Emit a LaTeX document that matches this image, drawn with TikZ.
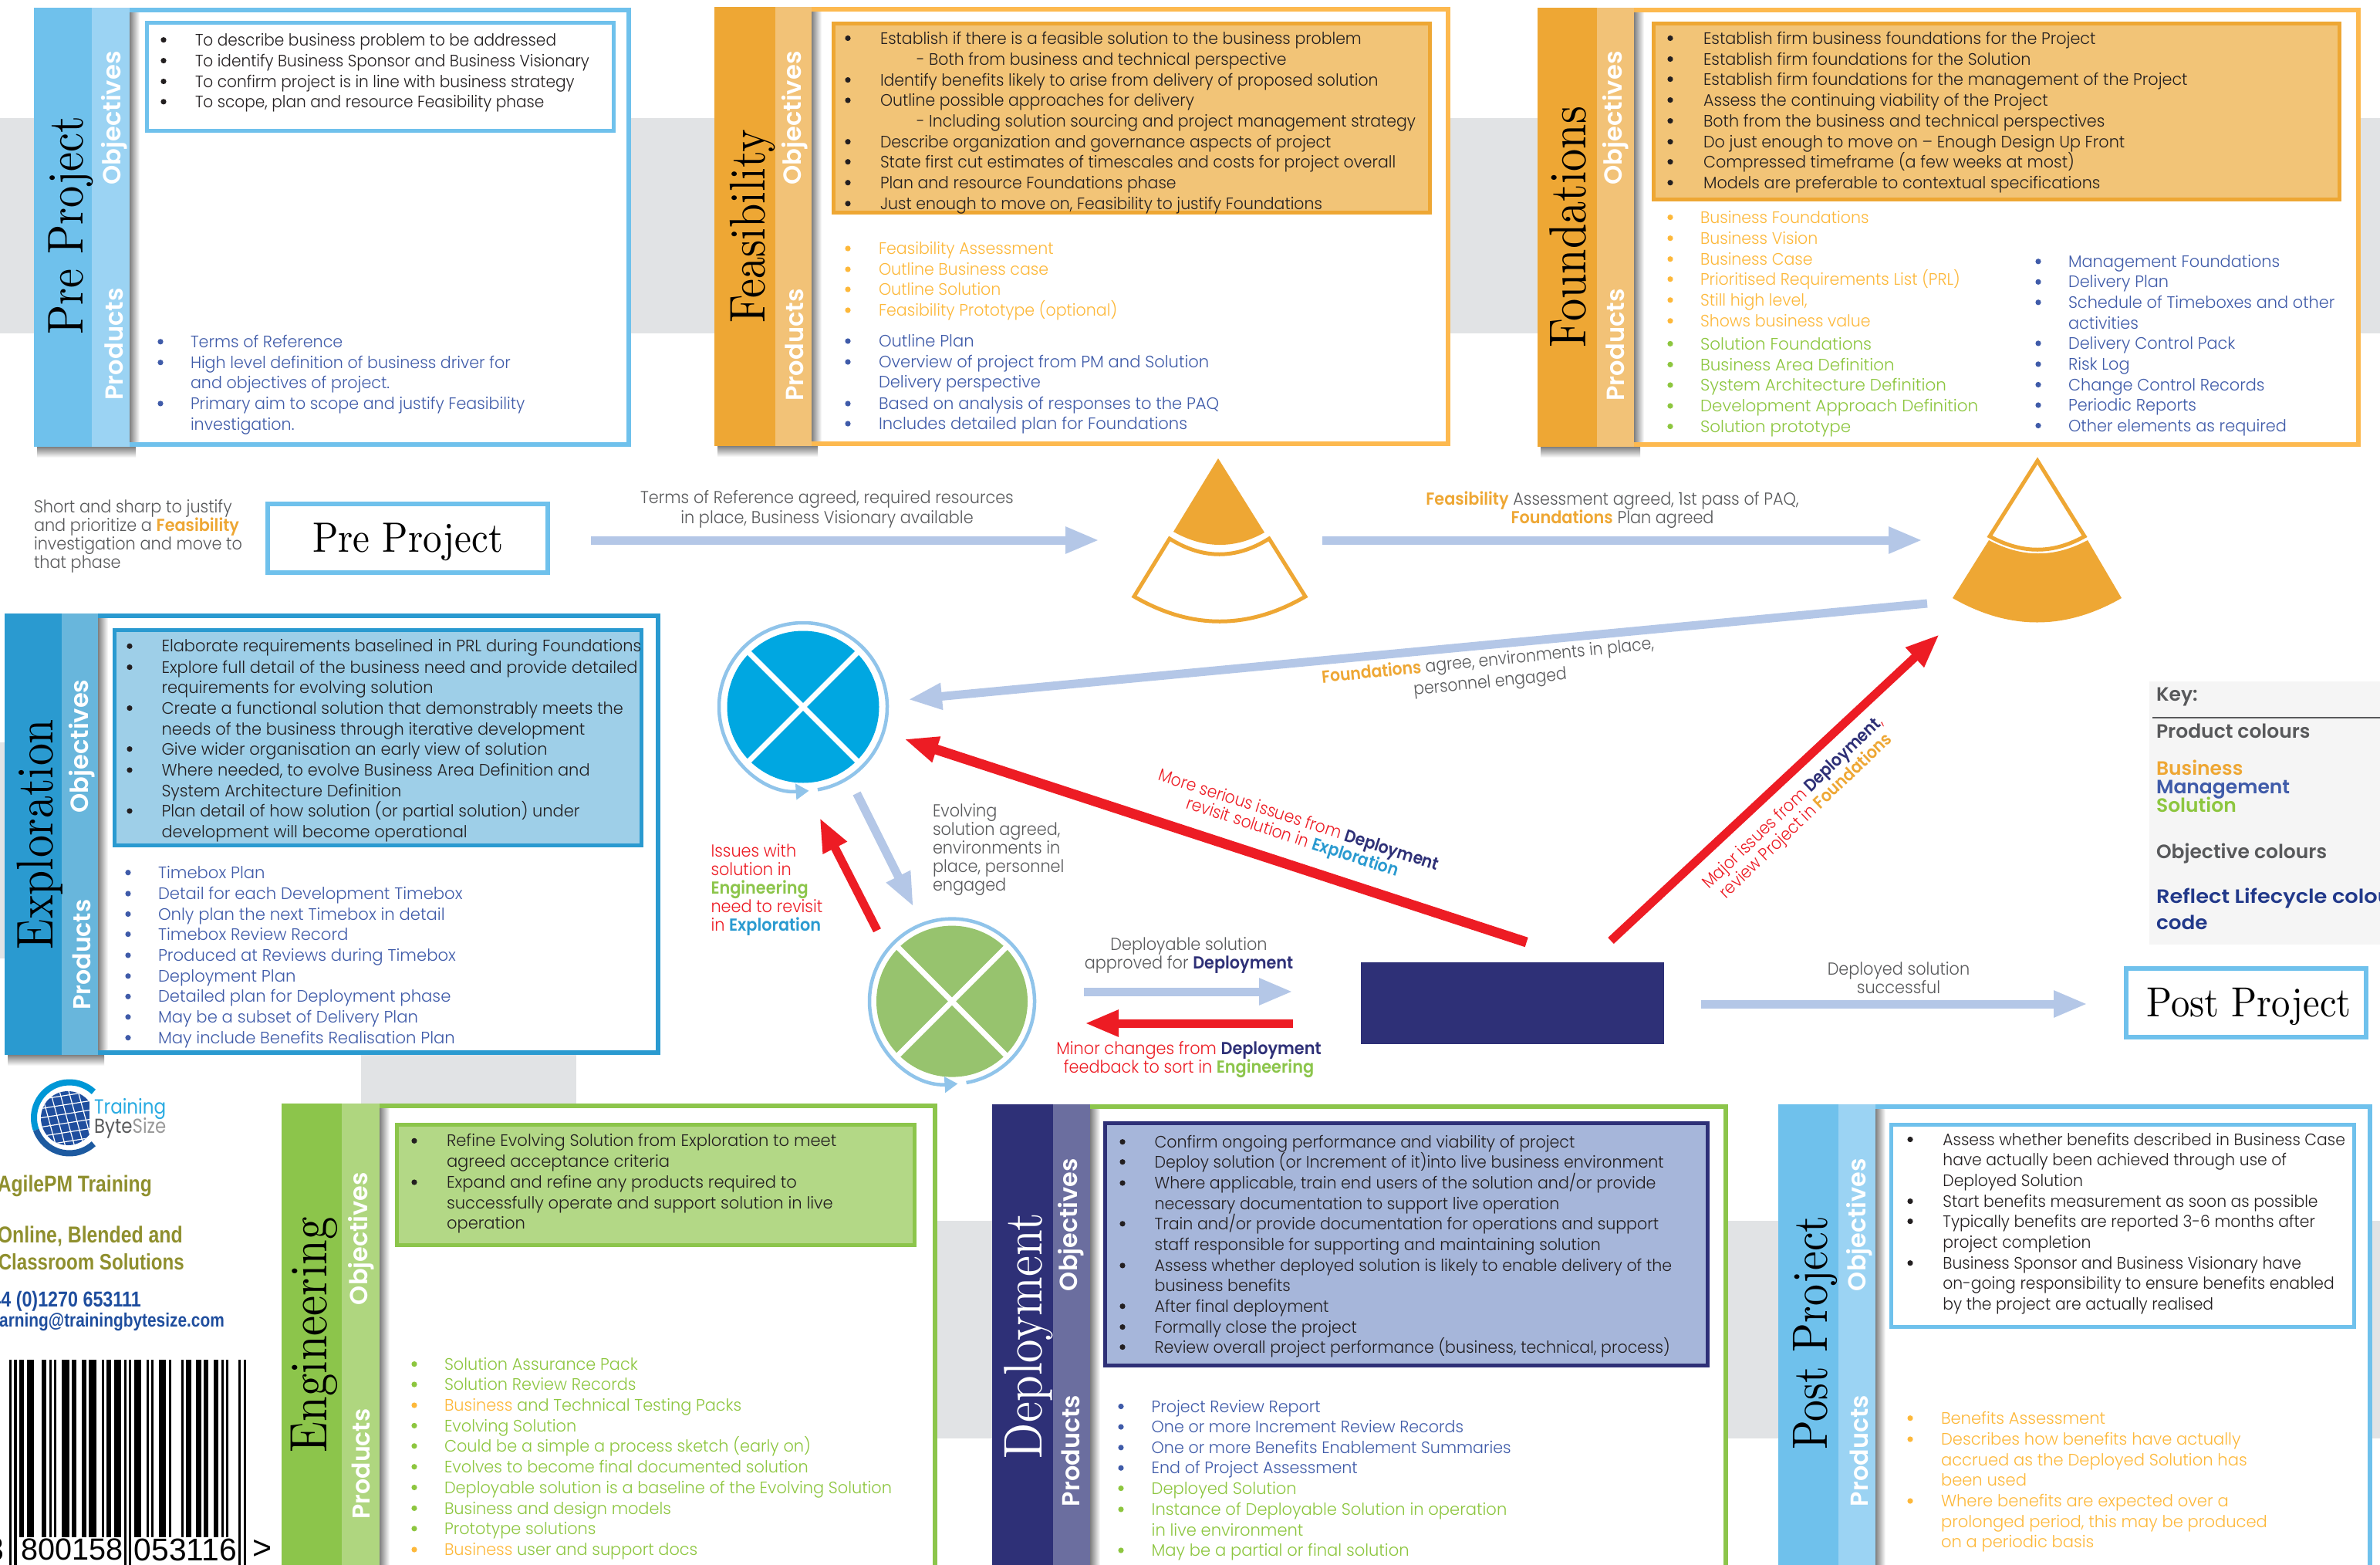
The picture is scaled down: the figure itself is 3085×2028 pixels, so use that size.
\documentclass[tikz,border=0pt]{standalone}
\usepackage{fontspec}
\usepackage{graphicx}
\usetikzlibrary{arrows.meta}
\newfontfamily\gothic{Poppins Light}
\newfontfamily\gothicm{Poppins}
\newfontfamily\gothicb{Poppins SemiBold}
\newfontfamily\arialf{Liberation Sans}
\newfontfamily\arialb{Liberation Sans Bold}
\definecolor{bandgrey}{HTML}{E1E3E5}
\definecolor{skyD}{HTML}{6FC1EC}
\definecolor{skyL}{HTML}{9BD3F3}
\definecolor{orD}{HTML}{EEA734}
\definecolor{orL}{HTML}{F2C277}
\definecolor{orB}{HTML}{FDB94F}
\definecolor{orF}{HTML}{F2C477}
\definecolor{exD}{HTML}{2A9AD0}
\definecolor{exL}{HTML}{68B6DC}
\definecolor{exF}{HTML}{9ECFE8}
\definecolor{enD}{HTML}{8CC54B}
\definecolor{enL}{HTML}{AFD67F}
\definecolor{enF}{HTML}{B3D886}
\definecolor{deD}{HTML}{2E3077}
\definecolor{deL}{HTML}{6B6E9F}
\definecolor{deF}{HTML}{A6B6DA}
\definecolor{bodyc}{HTML}{231F20}
\definecolor{mgmt}{HTML}{3F5BA9}
\definecolor{solu}{HTML}{8DC63F}
\definecolor{busi}{HTML}{FDB83A}
\definecolor{labc}{HTML}{58595B}
\definecolor{arrowb}{HTML}{B4C7E7}
\definecolor{redc}{HTML}{ED1C24}
\definecolor{ringc}{HTML}{90C4EA}
\definecolor{cirE}{HTML}{00A7E1}
\definecolor{cirG}{HTML}{97C36E}
\definecolor{keyg}{HTML}{F5F5F5}
\definecolor{olive}{HTML}{8F8F2E}
\definecolor{linkb}{HTML}{1F4E9E}
\definecolor{keyn}{HTML}{22398A}
\newcount\tcnt
\tikzset{
  txt/.style={inner sep=0pt,outer sep=0pt,yshift=-5.5pt,font=\gothic\fontsize{21.5}{26}\selectfont},
  lab/.style={txt,text=labc,font=\gothic\fontsize{22.5}{26}\selectfont},
  fatblue/.style={color=arrowb,line width=11pt,-{Triangle[length=44pt,width=32pt]}},
  fatred/.style={color=redc,line width=11pt,-{Triangle[length=44pt,width=32pt]}},
  ring/.style={color=ringc,line width=4.5pt,-{Triangle[length=17pt,width=20pt]}},
  titlebox/.style={draw=skyD,line width=6pt,fill=white,inner sep=0pt,outer sep=0pt},
  side/.style={inner sep=0pt,outer sep=0pt,rotate=90,anchor=center}
}
\newcommand\nid{\global\advance\tcnt 1 }
% panel: dark, light, border, x0,x1,x2,x3,ytop,ybot
\newcommand\panel[9]{%
  \fill[white] (#6,#8) rectangle (#7,#9);
  \shade[left color=black!50,right color=white] (#6,#8+6) rectangle (#6+13,#9-6);
  \draw[#3,line width=6pt] (#6,#8+3) -- (#7-3,#8+3) -- (#7-3,#9-3) -- (#6,#9-3);
  \shade[top color=black!50,bottom color=white] (#4+4,#9) rectangle (#6+8,#9+14);
  \fill[#1] (#4,#8) rectangle (#5,#9);
  \fill[#2] (#5,#8) rectangle (#6,#9);}
\newcommand\inbox[6]{\draw[draw=#1,fill=#2,line width=5pt] (#3+2.5,#4+2.5) rectangle (#5-2.5,#6-2.5);}
% rotated labels: x, y, length, colour, font, text
\newcommand\rlab[6]{\nid\node[side,text=#4] (r\the\tcnt) at (#1+2,#2) {\resizebox{#3pt}{!}{#5#6}};}
\newcommand\hdl[5]{\nid\node[side,text=#4] (h\the\tcnt) at (#1+3,#2) {\scalebox{1}[1.16]{\resizebox{#3pt}{!}{\rmfamily #5}}};}
\newcommand\setlist[4][1]{\def\sx{#1}\def\bx{#2}\def\tx{#3}\def\cc{#4}}
\newcommand\litem[2]{\fill[\cc] (\bx,#1) circle (3.6);\nid\node[txt,text=\cc,anchor=mid west] (t\the\tcnt) at (\tx,#1) {\scalebox{\sx}[1]{#2}};}
\newcommand\nbul[2]{\nid\node[txt,text=\cc,anchor=mid west] (t\the\tcnt) at (\tx,#1) {\scalebox{\sx}[1]{#2}};}
\newcommand\subl[3]{\nid\node[txt,text=\cc,anchor=mid west] (t\the\tcnt) at (#1,#2) {\scalebox{\sx}[1]{#3}};}
\newcommand\bw[2]{{\gothicb\textcolor{#1}{#2}}}
\newcommand\lbw[3]{\nid\node[lab,anchor=mid west] (l\the\tcnt) at (#1,#2) {\scalebox{.925}[1]{#3}};}
\newcommand\lbc[3]{\nid\node[lab,anchor=mid] (l\the\tcnt) at (#1,#2) {\scalebox{.925}[1]{#3}};}
\newcommand\lbr[4]{\nid\node[lab,anchor=mid,rotate=#3] (l\the\tcnt) at (#1,#2) {\scalebox{.905}[1]{#4}};}
\begin{document}
\begin{tikzpicture}[x=1pt,y=-1pt]
\useasboundingbox (0,0) rectangle (3085,2028);
\fill[white] (0,0) rectangle (3085,2028);
% grey bands
\fill[bandgrey] (0,153) rectangle (3085,432);
\fill[bandgrey] (0,962) rectangle (10,1242);
\fill[bandgrey] (468,1360) rectangle (747,1432);
\fill[bandgrey] (1214,1582) rectangle (3085,1864);

% ---------- Pre Project
\panel{skyD}{skyL}{skyD}{44}{119}{168}{818}{10}{579}
\inbox{skyD}{white}{188}{27}{798}{172}
\hdl{89}{292}{283}{black}{Pre Project}
\rlab{146}{153}{173}{white}{\gothicb}{Objectives}
\rlab{146}{446}{145}{white}{\gothicb}{Products}
\setlist[.935]{212}{253}{bodyc}
\litem{51.7}{To describe business problem to be addressed}
\litem{78.6}{To identify Business Sponsor and Business Visionary}
\litem{105.5}{To confirm project is in line with business strategy}
\litem{131.8}{To scope, plan and resource Feasibility phase}
\setlist[.96]{208}{247}{mgmt}
\litem{442.8}{Terms of Reference}
\litem{469.7}{High level definition of business driver for}
\nbul{496}{and objectives of project.}
\litem{522.9}{Primary aim to scope and justify Feasibility}
\nbul{549.8}{investigation.}

% ---------- Feasibility
\panel{orD}{orL}{orB}{926}{1005}{1052}{1880}{9}{578}
\inbox{orD}{orF}{1078}{28}{1856}{278}
\hdl{973}{293}{251}{black}{Feasibility}
\rlab{1028}{153}{173}{white}{\gothicb}{Objectives}
\rlab{1028}{447}{145}{white}{\gothicb}{Products}
\setlist[.95]{1099}{1141}{bodyc}
\litem{49.5}{Establish if there is a feasible solution to the business problem}
\subl{1188}{76.5}{- Both from business and technical perspective}
\litem{103.6}{Identify benefits likely to arise from delivery of proposed solution}
\litem{130}{Outline possible approaches for delivery}
\subl{1188}{156.6}{- Including solution sourcing and project management strategy}
\litem{183.7}{Describe organization and governance aspects of project}
\litem{209.7}{State first cut estimates of timescales and costs for project overall}
\litem{236.7}{Plan and resource Foundations phase}
\litem{263.8}{Just enough to move on, Feasibility to justify Foundations}
\setlist[.957]{1099}{1139}{busi}
\litem{322}{Feasibility Assessment}
\litem{349}{Outline Business case}
\litem{375}{Outline Solution}
\litem{402}{Feasibility Prototype (optional)}
\setlist[.98]{1099}{1139}{mgmt}
\litem{442}{Outline Plan}
\litem{469}{Overview of project from PM and Solution}
\nbul{495}{Delivery perspective}
\litem{523}{Based on analysis of responses to the PAQ}
\litem{549}{Includes detailed plan for Foundations}

% ---------- Foundations
\panel{orD}{orL}{orB}{1993}{2070}{2118}{3060}{10}{579}
\inbox{orD}{orF}{2141}{28}{3035}{261}
\hdl{2029}{294}{312}{black}{Foundations}
\rlab{2092}{153}{173}{white}{\gothicb}{Objectives}
\rlab{2092}{447}{145}{white}{\gothicb}{Products}
\setlist[.965]{2165}{2208}{bodyc}
\litem{49.5}{Establish firm business foundations for the Project}
\litem{76.5}{Establish firm foundations for the Solution}
\litem{102.6}{Establish firm foundations for the management of the Project}
\litem{129.6}{Assess the continuing viability of the Project}
\litem{156.6}{Both from the business and technical perspectives}
\litem{183.7}{Do just enough to move on – Enough Design Up Front}
\litem{209.7}{Compressed timeframe (a few weeks at most)}
\litem{236.7}{Models are preferable to contextual specifications}
\setlist[.955]{2165}{2204}{busi}
\litem{281.6}{Business Foundations}
\litem{308.7}{Business Vision}
\litem{335.7}{Business Case}
\litem{361.7}{Prioritised Requirements List (PRL)}
\litem{388.8}{Still high level,}
\litem{415.8}{Shows business value}
\setlist[1]{2165}{2204}{solu}
\litem{445.4}{Solution Foundations}
\litem{472.4}{Business Area Definition}
\litem{499}{System Architecture Definition}
\litem{526}{Development Approach Definition}
\litem{552.6}{Solution prototype}
\setlist[.97]{2642}{2681}{mgmt}
\litem{338.8}{Management Foundations}
\litem{365.3}{Delivery Plan}
\litem{391.8}{Schedule of Timeboxes and other}
\nbul{418.9}{activities}
\litem{444.9}{Delivery Control Pack}
\litem{471.9}{Risk Log}
\litem{498.5}{Change Control Records}
\litem{525}{Periodic Reports}
\litem{551.5}{Other elements as required}

% ---------- Exploration
\panel{exD}{exL}{exD}{6}{80}{127}{856}{795}{1367}
\inbox{exD}{exF}{146}{814}{834}{1098}
\hdl{49}{1081}{298}{black}{Exploration}
\rlab{104}{967}{173}{white}{\gothicb}{Objectives}
\rlab{104}{1237}{143}{white}{\gothicb}{Products}
\setlist[.975]{168}{209.5}{bodyc}
\litem{837.3}{Elaborate requirements baselined in PRL during Foundations}
\litem{864.6}{Explore full detail of the business need and provide detailed}
\nbul{890.7}{requirements for evolving solution}
\litem{917.6}{Create a functional solution that demonstrably meets the}
\nbul{944.5}{needs of the business through iterative development}
\litem{970.6}{Give wider organisation an early view of solution}
\litem{997.9}{Where needed, to evolve Business Area Definition and}
\nbul{1024.4}{System Architecture Definition}
\litem{1050.9}{Plan detail of how solution (or partial solution) under}
\nbul{1077.4}{development will become operational}
\setlist[.985]{166}{205}{mgmt}
\litem{1130.7}{Timebox Plan}
\litem{1158}{Detail for each Development Timebox}
\litem{1184.5}{Only plan the next Timebox in detail}
\litem{1210.6}{Timebox Review Record}
\litem{1237.9}{Produced at Reviews during Timebox}
\litem{1264.8}{Deployment Plan}
\litem{1291.3}{Detailed plan for Deployment phase}
\litem{1317.8}{May be a subset of Delivery Plan}
\litem{1344.7}{May include Benefits Realisation Plan}

% ---------- Engineering
\panel{enD}{enL}{enD}{365}{443}{492}{1215}{1430}{2060}
\inbox{enD}{enF}{512}{1455}{1188}{1616}
\hdl{404}{1730}{305}{black}{Engineering}
\rlab{466}{1605}{172}{white}{\gothicb}{Objectives}
\rlab{466}{1897}{143}{white}{\gothicb}{Products}
\setlist[.98]{537}{579}{bodyc}
\litem{1478.3}{Refine Evolving Solution from Exploration to meet}
\nbul{1504.8}{agreed acceptance criteria}
\litem{1532}{Expand and refine any products required to}
\nbul{1558.5}{successfully operate and support solution in live}
\nbul{1585}{operation}
\setlist[.97]{537}{576}{solu}
\litem{1767.6}{Solution Assurance Pack}
\litem{1794}{Solution Review Records}
\fill[busi] (537,1821) circle (3.6);
\nbul{1821}{\textcolor{busi}{Business} and Technical Testing Packs}
\litem{1847.4}{Evolving Solution}
\litem{1873.8}{Could be a simple a process sketch (early on)}
\litem{1900.7}{Evolves to become final documented solution}
\litem{1927.5}{Deployable solution is a baseline of the Evolving Solution}
\litem{1954.4}{Business and design models}
\litem{1980.8}{Prototype solutions}
\fill[busi] (537,2008) circle (3.6);
\nbul{2008}{\textcolor{busi}{Business} user and support docs}

% ---------- Deployment
\panel{deD}{deL}{enD}{1286}{1364.5}{1413}{2240}{1431}{2060}
\inbox{deD}{deF}{1430}{1453}{2215.5}{1772}
\hdl{1330}{1731}{318}{white}{Deployment}
\rlab{1386}{1587}{172}{white}{\gothicb}{Objectives}
\rlab{1386}{1880}{144}{white}{\gothicb}{Products}
\setlist[.957]{1455}{1496.6}{bodyc}
\litem{1479.7}{Confirm ongoing performance and viability of project}
\litem{1505.7}{Deploy solution (or Increment of it)into live business environment}
\litem{1533}{Where applicable, train end users of the solution and/or provide}
\nbul{1559.8}{necessary documentation to support live operation}
\litem{1585.8}{Train and/or provide documentation for operations and support}
\nbul{1612.7}{staff responsible for supporting and maintaining solution}
\litem{1639.9}{Assess whether deployed solution is likely to enable delivery of the}
\nbul{1666.3}{business benefits}
\litem{1692.7}{After final deployment}
\litem{1719.6}{Formally close the project}
\litem{1745.6}{Review overall project performance (business, technical, process)}
\setlist[.96]{1453}{1492.7}{mgmt}
\litem{1822.5}{Project Review Report}
\litem{1849}{One or more Increment Review Records}
\litem{1875.8}{One or more Benefits Enablement Summaries}
\litem{1902.2}{End of Project Assessment}
\setlist[.98]{1453}{1492.7}{solu}
\litem{1928.6}{Deployed Solution}
\litem{1955.9}{Instance of Deployable Solution in operation}
\nbul{1982.7}{in live environment}
\litem{2009}{May be a partial or final solution}

% ---------- Post Project
\panel{skyD}{skyL}{skyD}{2305}{2383}{2431}{3075}{1431}{2060}
\inbox{skyD}{white}{2449}{1455}{3054}{1722}
\hdl{2350}{1727}{303}{black}{Post Project}
\rlab{2408}{1587}{172}{white}{\gothicb}{Objectives}
\rlab{2408}{1880}{144}{white}{\gothicb}{Products}
\setlist[.946]{2476}{2518.4}{bodyc}
\litem{1476.5}{Assess whether benefits described in Business Case}
\nbul{1503}{have actually been achieved through use of}
\nbul{1529.8}{Deployed Solution}
\litem{1556.6}{Start benefits measurement as soon as possible}
\litem{1582.6}{Typically benefits are reported 3-6 months after}
\nbul{1609.9}{project completion}
\litem{1636.7}{Business Sponsor and Business Visionary have}
\nbul{1662.7}{on-going responsibility to ensure benefits enabled}
\nbul{1690}{by the project are actually realised}
\setlist[.98]{2476}{2516}{busi}
\litem{1837.7}{Benefits Assessment}
\litem{1865}{Describes how benefits have actually}
\nbul{1891.8}{accrued as the Deployed Solution has}
\nbul{1917.8}{been used}
\litem{1945}{Where benefits are expected over a}
\nbul{1972}{prolonged period, this may be produced}
\nbul{1998}{on a periodic basis}

% ---------- Middle flow: nodes
\node[titlebox,minimum width=363.5pt,minimum height=89pt] (preBox) at (528.7,697.5) {};
\node[inner sep=0pt] (preT) at (528.7,702) {\scalebox{1}[1.12]{\rmfamily\resizebox{247pt}{!}{Pre Project}}};
\node[titlebox,minimum width=310.5pt,minimum height=89pt] (postBox) at (2911.7,1299.5) {};
\node[inner sep=0pt] (postT) at (2915,1304) {\scalebox{1}[1.12]{\rmfamily\resizebox{265pt}{!}{Post Project}}};
\fill[deD] (1764,1247) rectangle (2157,1353);
\node[inner sep=0pt,minimum width=393pt,minimum height=106pt] (deployBox) at (1960.5,1300) {};

\lbw{44}{657}{Short and sharp to justify}
\lbw{44}{680.6}{and prioritize a \bw{orD}{Feasibility}}
\lbw{44}{704.5}{investigation and move to}
\lbw{44}{729}{that phase}

% pies
\fill[orD] (1579,594) -- (1639,690) .. controls (1600,712) and (1560,711) .. (1521,689) -- cycle;
\draw[orD,line width=5pt,line join=miter] (1516,698) .. controls (1559,725) and (1602,725) .. (1645,698) -- (1692,773) .. controls (1618,816) and (1544,816) .. (1470,773) -- cycle;
\draw[orD,line width=5pt] (2641,597) -- (2702,695) .. controls (2661,718) and (2621,718) .. (2579,695) -- cycle;
\fill[orD] (2578,700) .. controls (2621,723) and (2663,723) .. (2706,700) -- (2750,775) .. controls (2677,817) and (2604,817) .. (2531,775) -- cycle;

% circles
\fill[cirE] (1041,916) circle (98.5);
\draw[white,line width=7pt] (970,845) -- (1112,987);
\draw[white,line width=7pt] (970,987) -- (1112,845);
\draw[ring] (1041,916) ++(-80:109pt) arc[start angle=-80,end angle=274,radius=109pt];
\fill[cirG] (1234,1297.6) circle (98);
\draw[white,line width=7pt] (1163,1226.6) -- (1305,1368.6);
\draw[white,line width=7pt] (1163,1368.6) -- (1305,1226.6);
\draw[ring] (1234,1297.6) ++(-80:107pt) arc[start angle=-80,end angle=274,radius=107pt];

% connectors
\coordinate (a1s) at (766,700); \coordinate (a1e) at (1425,700);
\coordinate (a2s) at (1714,700); \coordinate (a2e) at (2492,700);
\coordinate (a3s) at (2498,782); \coordinate (a3e) at (1177,906.5);
\coordinate (a4s) at (1110.5,1028); \coordinate (a4e) at (1184,1175);
\coordinate (a5s) at (1137,1205.7); \coordinate (a5e) at (1062.4,1059.6);
\coordinate (a6s) at (1978.7,1221); \coordinate (a6e) at (1172,957.6);
\coordinate (a7s) at (2088,1219); \coordinate (a7e) at (2514,822);
\coordinate (a8s) at (1405,1285); \coordinate (a8e) at (1676,1285);
\coordinate (a9s) at (1676,1326); \coordinate (a9e) at (1406,1326);
\coordinate (a10s) at (2205,1301); \coordinate (a10e) at (2706,1301);
\draw[fatblue] (a1s) -- (a1e);
\draw[fatblue] (a2s) -- (a2e);
\draw[fatblue] (a3s) -- (a3e);
\draw[fatblue] (a4s) -- (a4e);
\draw[fatred] (a5s) -- (a5e);
\draw[fatred,line width=13pt] (a6s) -- (a6e);
\draw[fatred] (a7s) -- (a7e);
\draw[fatblue] (a8s) -- (a8e);
\draw[fatred] (a9s) -- (a9e);
\draw[fatblue] (a10s) -- (a10e);

% connector labels
\lbc{1072}{645}{Terms of Reference agreed, required resources}
\lbc{1072}{671}{in place, Business Visionary available}
\lbc{2090}{647}{\bw{orD}{Feasibility} Assessment agreed, 1st pass of PAQ,}
\lbc{2090}{671}{\bw{orD}{Foundations} Plan agreed}
\lbr{1929}{855.5}{5.8}{\bw{orD}{Foundations} agree, environments in place,}
\lbr{1932}{883}{5.8}{personnel engaged}
\lbw{1209}{1050.6}{Evolving}
\lbw{1209}{1074.7}{solution agreed,}
\lbw{1209}{1098.8}{environments in}
\lbw{1209}{1122.9}{place, personnel}
\lbw{1209}{1147}{engaged}
\lbw{921.5}{1102.4}{\textcolor{redc}{Issues with}}
\lbw{921.5}{1127}{\textcolor{redc}{solution in}}
\lbw{921.5}{1151}{\bw{enD}{Engineering}}
\lbw{921.5}{1174.7}{\textcolor{redc}{need to revisit}}
\lbw{921.5}{1198.8}{\textcolor{redc}{in} \bw{exD}{Exploration}}
\lbc{1541}{1224}{Deployable solution}
\lbc{1541}{1248}{approved for \bw{deD}{Deployment}}
\lbc{1541}{1358.8}{\textcolor{redc}{Minor changes from} \bw{deD}{Deployment}}
\lbc{1541}{1383}{\textcolor{redc}{feedback to sort in} \bw{enD}{Engineering}}
\lbr{1682}{1062}{-18}{\textcolor{redc}{More serious issues from} \bw{deD}{Deployment}}
\lbr{1674}{1084}{-18}{\textcolor{redc}{revisit solution in} \bw{exD}{Exploration}}
\lbr{2327}{1038}{43.6}{\textcolor{redc}{Major issues from} \bw{deD}{Deployment}\textcolor{redc}{,}}
\lbr{2344}{1055.5}{43.6}{\textcolor{redc}{review Project in} \bw{orD}{Foundations}}
\lbc{2461}{1255.5}{Deployed solution}
\lbc{2461}{1279.6}{successful}

% ---------- Key
\fill[keyg] (2786,883) rectangle (3085,1224);
\draw[labc,line width=2pt] (2790,930) -- (3085,930);
\tikzset{keyt/.style={inner sep=0pt,outer sep=0pt,yshift=-5.5pt,anchor=mid west,font=\gothicb\fontsize{25}{28}\selectfont}}
\node[keyt,text=labc] (k1) at (2795,901) {Key:};
\node[keyt,text=labc] (k2) at (2795,949) {Product colours};
\node[keyt,text=orD] (k3) at (2795,997) {Business};
\node[keyt,text=mgmt] (k4) at (2795,1021) {Management};
\node[keyt,text=solu] (k5) at (2795,1045) {Solution};
\node[keyt,text=labc] (k6) at (2795,1104.5) {Objective colours};
\node[keyt,text=keyn] (k7) at (2795,1162.4) {\scalebox{1.09}[1]{Reflect Lifecycle colour}};
\node[keyt,text=keyn] (k8) at (2795,1197) {\scalebox{1.05}[1]{code}};

% ---------- Logo and contact
\draw[color={rgb,255:red,0;green,151;blue,214},line width=8pt] (90,1448.5) ++(47:46pt) arc[start angle=47,end angle=200,radius=46pt];
\draw[color={rgb,255:red,29;green,90;blue,160},line width=8pt] (90,1448.5) ++(200:46pt) arc[start angle=200,end angle=313,radius=46pt];
\begin{scope}
\clip (88,1449) circle (35);
\fill[linkb] (50,1410) rectangle (116,1490);
\foreach \d in {-36,-24,...,36}{
  \draw[white,line width=1.2pt] (88+\d,1410) -- (88+\d+22,1490);
  \draw[white,line width=1.2pt] (50,1449+\d) -- (126,1449+\d-12);
}
\end{scope}
\node[inner sep=0pt,anchor=west,text={rgb,255:red,41;green,171;blue,226}] (logoA) at (122,1437) {\gothicm\scalebox{1}[1.15]{\resizebox{93pt}{!}{Training}}};
\node[inner sep=0pt,anchor=west] (logoB) at (122,1462) {\gothicm\scalebox{1}[1.15]{\resizebox{93pt}{!}{\textcolor{labc}{Byte}\textcolor{black!40}{Size}}}};
\node[inner sep=0pt,anchor=east,text=olive] (c1) at (197,1537) {\arialb\scalebox{1}[1.2]{\resizebox{200pt}{!}{AgilePM Training}}};
\node[inner sep=0pt,anchor=east,text=olive] (c2) at (237,1602) {\arialb\scalebox{1}[1.2]{\resizebox{240pt}{!}{Online, Blended and}}};
\node[inner sep=0pt,anchor=east,text=olive] (c3) at (239,1635) {\arialb\scalebox{1}[1.2]{\resizebox{241pt}{!}{Classroom Solutions}}};
\node[inner sep=0pt,anchor=east,text=linkb] (c4) at (183,1686) {\arialb\scalebox{1}[1.2]{\resizebox{208pt}{!}{+44 (0)1270 653111}}};
\node[inner sep=0pt,anchor=east,text=linkb] (c5) at (291,1713.5) {\arialb\scalebox{1}[1.2]{\resizebox{309pt}{!}{learning@trainingbytesize.com}}};

% ---------- Barcode
\foreach \b [count=\i] in {1,0,1,0,1,1,0,1,1,1,0,0,0,1,1,0,1,0,1,0,0,1,1,1,0,1,1,0,0,1,1,0,1,1,1,0,0,1,0,1,1,0,1,1,1,0,1,0,1,0,1,1,1,0,0,1,0,1,0,0,1,1,1,0,1,0,0,0,0,1,0,1,1,0,0,1,1,0,1,1,0,0,1,1,0,1,0,1,0,0,0,0,1,0,1}{
  \ifnum\b=1
    \pgfmathtruncatemacro{\guard}{(\i<4)||(\i>45 && \i<51)||(\i>92)}
    \ifnum\guard=1
      \fill[black] (12+3.23*\i-3.23,1762) rectangle (12+3.23*\i,2028);
    \else
      \fill[black] (12+3.23*\i-3.23,1762) rectangle (12+3.23*\i,1992);
    \fi
  \fi
}
\node[inner sep=0pt,anchor=east] (b0) at (6,2008) {\arialf\fontsize{43}{43}\selectfont 3};
\node[inner sep=0pt] (b1) at (94,2008) {\arialf\resizebox{132pt}{!}{800158}};
\node[inner sep=0pt] (b2) at (240.5,2008) {\arialf\resizebox{133pt}{!}{053116}};
\node[inner sep=0pt] (b3) at (340,2008) {\arialf\fontsize{43}{43}\selectfont >};
\end{tikzpicture}
\end{document}
